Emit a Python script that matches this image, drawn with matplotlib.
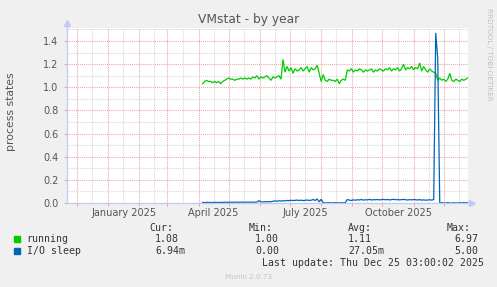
import datetime as dt

import matplotlib
matplotlib.use("Agg")
import matplotlib.dates as mdates
import matplotlib.pyplot as plt
import numpy as np
from matplotlib.patches import Rectangle

# data: one value every 2 days, starting 2025-04-05
data_start = dt.datetime(2025, 4, 5)
step_days = 2

running = [
    1.03, 1.05, 1.06, 1.05, 1.05, 1.04, 1.05, 1.04, 1.05, 1.03, 1.05, 1.06,
    1.07, 1.08, 1.07, 1.07, 1.06, 1.07, 1.07, 1.08, 1.07, 1.08, 1.07, 1.08, 1.07,
    1.09, 1.08, 1.10, 1.07, 1.09, 1.08, 1.09, 1.10, 1.08, 1.06, 1.09, 1.08, 1.09, 1.10, 1.07,
    1.24,
    1.13, 1.18, 1.14, 1.17, 1.12, 1.16, 1.14, 1.15, 1.17, 1.14, 1.16, 1.18, 1.13, 1.17, 1.15, 1.16, 1.19,
    1.12, 1.05, 1.11,
    1.06, 1.05, 1.07, 1.06, 1.06, 1.05, 1.07, 1.03, 1.06, 1.07, 1.06,
    1.15,
    1.14, 1.16, 1.13, 1.15, 1.14, 1.16, 1.15, 1.13, 1.15, 1.14, 1.15, 1.16, 1.13, 1.15,
    1.14, 1.16, 1.15, 1.14, 1.16, 1.15, 1.17, 1.14, 1.16, 1.15, 1.17, 1.14, 1.16,
    1.20, 1.15, 1.17, 1.16, 1.18, 1.15, 1.17, 1.16, 1.21, 1.14, 1.18, 1.15, 1.13, 1.16, 1.14, 1.13,
    1.12, 1.06,
    1.08, 1.06, 1.07, 1.05, 1.07, 1.12, 1.06, 1.05, 1.07, 1.06, 1.05, 1.07, 1.06, 1.07, 1.08,
]

io_sleep = [
    0.005, 0.003, 0.006, 0.004, 0.005, 0.003, 0.006, 0.005, 0.004, 0.006, 0.005, 0.007,
    0.006, 0.005, 0.007, 0.006, 0.008, 0.007, 0.006, 0.008, 0.007, 0.006, 0.008, 0.007,
    0.008, 0.006, 0.008, 0.007, 0.020,
    0.010, 0.009, 0.011, 0.010, 0.012, 0.011, 0.015, 0.018, 0.016, 0.019, 0.017, 0.020, 0.018,
    0.022, 0.020, 0.024, 0.021, 0.023, 0.025, 0.022, 0.024, 0.021, 0.023, 0.026, 0.022,
    0.024, 0.030, 0.022, 0.035,
    0.010, 0.032,
    0.002, 0.001, 0.001, 0.002, 0.001, 0.001, 0.003, 0.002, 0.001, 0.002, 0.001, 0.003,
    0.030,
    0.025, 0.022, 0.027, 0.024, 0.028, 0.026, 0.030, 0.025, 0.028, 0.027, 0.031, 0.026,
    0.029, 0.028, 0.030, 0.027, 0.029, 0.031, 0.028, 0.030, 0.027, 0.029, 0.032, 0.028,
    0.030, 0.027, 0.029, 0.031, 0.028, 0.026, 0.029, 0.027, 0.030, 0.028, 0.026, 0.029,
    0.025, 0.027, 0.024, 0.026, 0.028, 0.025, 0.030,
    1.47, 1.25,
    0.0, 0.003, 0.0, 0.0, 0.004, 0.0, 0.0, 0.002, 0.0, 0.0, 0.003, 0.0, 0.004, 0.0, 0.005,
]

series_names = ["running", "I/O sleep"]
series_colors = ["#00cc00", "#0066b3"]
legend_cur = ["1.08", "6.94m"]
legend_min = ["1.00", "0.00"]
legend_avg = ["1.11", "27.05m"]
legend_max = ["6.97", "5.00"]
quarter_months = [dt.datetime(2025, 1, 1), dt.datetime(2025, 4, 1),
                  dt.datetime(2025, 7, 1), dt.datetime(2025, 10, 1)]
y_ticks = [0.0, 0.2, 0.4, 0.6, 0.8, 1.0, 1.2, 1.4]

x_start = dt.datetime(2024, 11, 21)
x_end = dt.datetime(2025, 12, 25, 3)

W, H = 497, 287
fig = plt.figure(figsize=(W / 100, H / 100), dpi=100, facecolor="#f0f0f0")
ax = fig.add_axes([67 / W, 1 - 203 / H, (468 - 67) / W, (203 - 28) / H])
ax.set_facecolor("white")

for vals, color in zip([running, io_sleep], series_colors):
    dates = [data_start + dt.timedelta(days=step_days * i) for i in range(len(vals))]
    ax.plot(dates, vals, color=color, lw=0.9, solid_joinstyle="miter")

ax.set_xlim(x_start, x_end)
ax.set_ylim(0, 1.512)

# grid
major_c = "#eaa5a5"
minor_c = "#d6d6d6"
ax.xaxis.set_major_locator(mdates.MonthLocator())
ax.xaxis.set_minor_locator(mdates.MonthLocator(bymonthday=16))
ax.xaxis.set_major_formatter(plt.NullFormatter())
ax.set_yticks(y_ticks)
ax.set_yticks(np.arange(0.1, 1.51, 0.2), minor=True)
ax.set_yticklabels(["%.1f" % v for v in y_ticks])
ax.grid(which="major", color=major_c, lw=0.75, linestyle=(0, (1, 1)))
ax.grid(which="minor", color=minor_c, lw=0.75, linestyle=(0, (1, 1)))
ax.set_axisbelow(True)
ax.tick_params(which="major", length=2, width=0.75, color=major_c,
               labelsize=7, labelcolor="#555555", pad=4)
ax.tick_params(which="minor", length=0)

for m in quarter_months:
    nxt = dt.datetime(m.year, m.month + 1, 1)
    mid = m + (nxt - m) / 2
    ax.text(mid, -9.5 / 175, m.strftime("%B %Y"), transform=ax.get_xaxis_transform(),
            ha="center", va="center", fontsize=7, color="#555555")

# axes with arrows
for s in ax.spines.values():
    s.set_visible(False)
axis_c = "#c4c8f4"
ax.plot([0, 0], [0, 1.02], color=axis_c, lw=0.9, transform=ax.transAxes, clip_on=False)
ax.plot([0, 1.005], [0, 0], color=axis_c, lw=0.9, transform=ax.transAxes, clip_on=False)
ax.plot([0], [1.03], marker="^", ms=4, color=axis_c, transform=ax.transAxes, clip_on=False)
ax.plot([1.01], [0], marker=">", ms=4, color=axis_c, transform=ax.transAxes, clip_on=False)

fig.text(0.5, 1 - 19 / H, "VMstat - by year", ha="center", va="center",
         fontsize=8.8, color="#555555")
fig.text(11.5 / W, 1 - 112 / H, "process states", rotation=90, ha="center",
         va="center", fontsize=7.8, color="#555555")
fig.text(488.5 / W, 1 - 54 / H, "RRDTOOL / TOBI OETIKER", rotation=270, ha="center",
         va="center", fontsize=5.2, color="#c0c0c0")

# legend
mono = "DejaVu Sans Mono"
lc = "#333333"
fs = 7.1
row_y = [239.3, 251]
for lbl, x in zip(["Cur:", "Min:", "Avg:", "Max:"], [149, 249, 348, 447]):
    fig.text(x / W, 1 - 228.3 / H, lbl, family=mono, fontsize=fs, color=lc, va="center")
for i, (name, color) in enumerate(zip(series_names, series_colors)):
    y = 1 - row_y[i] / H
    fig.add_artist(Rectangle((14 / W, y - 2.5 / H), 5.5 / W, 5.5 / H, color=color,
                             transform=fig.transFigure))
    fig.text(26.7 / W, y, name, family=mono, fontsize=fs, color=lc, va="center")
    for col, x in zip([legend_cur, legend_min, legend_avg, legend_max], [155, 255, 348, 454]):
        fig.text(x / W, y, col[i], family=mono, fontsize=fs, color=lc, va="center")
fig.text(262 / W, 1 - 263.3 / H, "Last update: Thu Dec 25 03:00:02 2025", family=mono,
         fontsize=fs, color=lc, va="center")
fig.text(0.5, 1 - 276.7 / H, "Munin 2.0.73", ha="center", va="center",
         fontsize=5.2, color="#c4c4c4")

fig.savefig("out.png", dpi=100, facecolor=fig.get_facecolor())
